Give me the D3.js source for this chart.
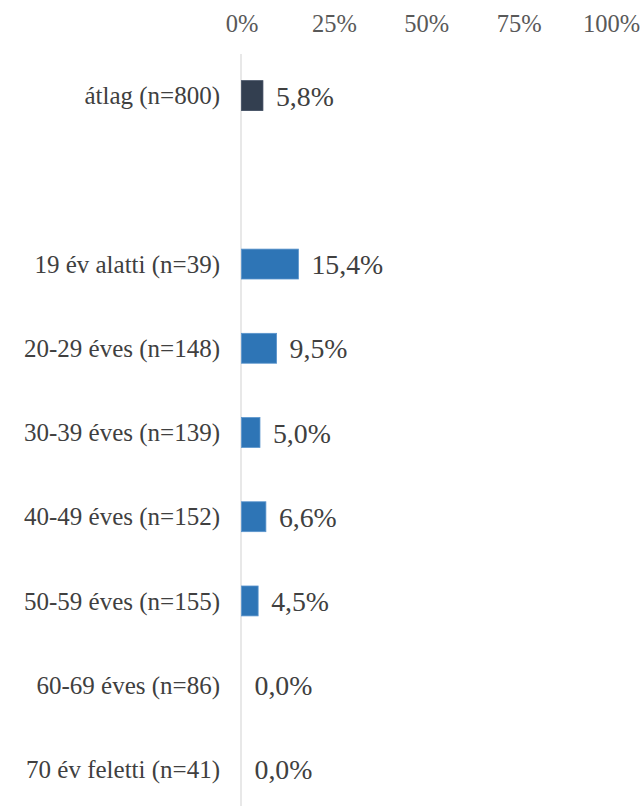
<!DOCTYPE html>
<html><head><meta charset="utf-8">
<script src="https://cdn.jsdelivr.net/npm/d3@7"></script>
<style>body{margin:0;background:#fff} svg text{font-family:"Liberation Serif";}</style>
</head><body>
<script>
const categories = ["átlag (n=800)", "", "19 év alatti (n=39)", "20-29 éves (n=148)", "30-39 éves (n=139)", "40-49 éves (n=152)", "50-59 éves (n=155)", "60-69 éves (n=86)", "70 év feletti (n=41)"];
const values = [5.8, null, 15.4, 9.5, 5.0, 6.6, 4.5, 0.0, 0.0];
const tickValues = [0, 25, 50, 75, 100];

const W = 641, H = 806;
const svg = d3.select("body").append("svg").attr("width", W).attr("height", H);
const x = d3.scaleLinear().domain([0, 100]).range([241.5, 611]);
const keys = categories.map((c, i) => i);
const y = d3.scaleBand().domain(keys).range([53.5, 811.5]).paddingInner(0.645).paddingOuter(0.3225);
const font = '"Liberation Serif"';

const ax = d3.axisTop(x).tickValues(tickValues).tickFormat(d => d + "%").tickSize(0).tickPadding(0);
const gA = svg.append("g").attr("transform", "translate(0,32)").call(ax);
gA.select(".domain").remove();
gA.attr("font-family", null).attr("font-size", null);
gA.selectAll("text").attr("dy", null).style("font-family", font).style("font-size", "24.5px").attr("fill", "#595959");

svg.append("line").attr("x1", x(0) - 0.5).attr("x2", x(0) - 0.5).attr("y1", 54).attr("y2", H)
  .attr("stroke", "#d9d9d9").attr("stroke-width", 1.2);

const data = keys.filter(i => values[i] !== null).map(i => ({i, c: categories[i], v: values[i]}));

svg.selectAll("rect.bar").data(data).enter().append("rect").attr("class", "bar")
  .attr("x", x(0)).attr("y", d => y(d.i))
  .attr("width", d => x(d.v) - x(0)).attr("height", y.bandwidth())
  .attr("fill", d => d.i === 0 ? "#333F50" : "#2E75B6")
  .attr("stroke", d => d.v > 0 ? (d.i === 0 ? "#3d4a5e" : "#5A94CC") : "none").attr("stroke-width", 0.8);

svg.selectAll("text.cat").data(data).enter().append("text").attr("class", "cat")
  .attr("x", 220).attr("y", d => y(d.i) + y.bandwidth() / 2).attr("dy", "0.35em")
  .attr("text-anchor", "end").style("font-family", font).style("font-size", "25px").attr("fill", "#404040")
  .text(d => d.c);

svg.selectAll("text.val").data(data).enter().append("text").attr("class", "val")
  .attr("x", d => x(d.v) + 13).attr("y", d => y(d.i) + y.bandwidth() / 2).attr("dy", "0.36em")
  .style("font-family", font).style("font-size", "27.8px").attr("fill", "#404040")
  .text(d => d.v.toFixed(1).replace(".", ",") + "%");
</script>
</body></html>
